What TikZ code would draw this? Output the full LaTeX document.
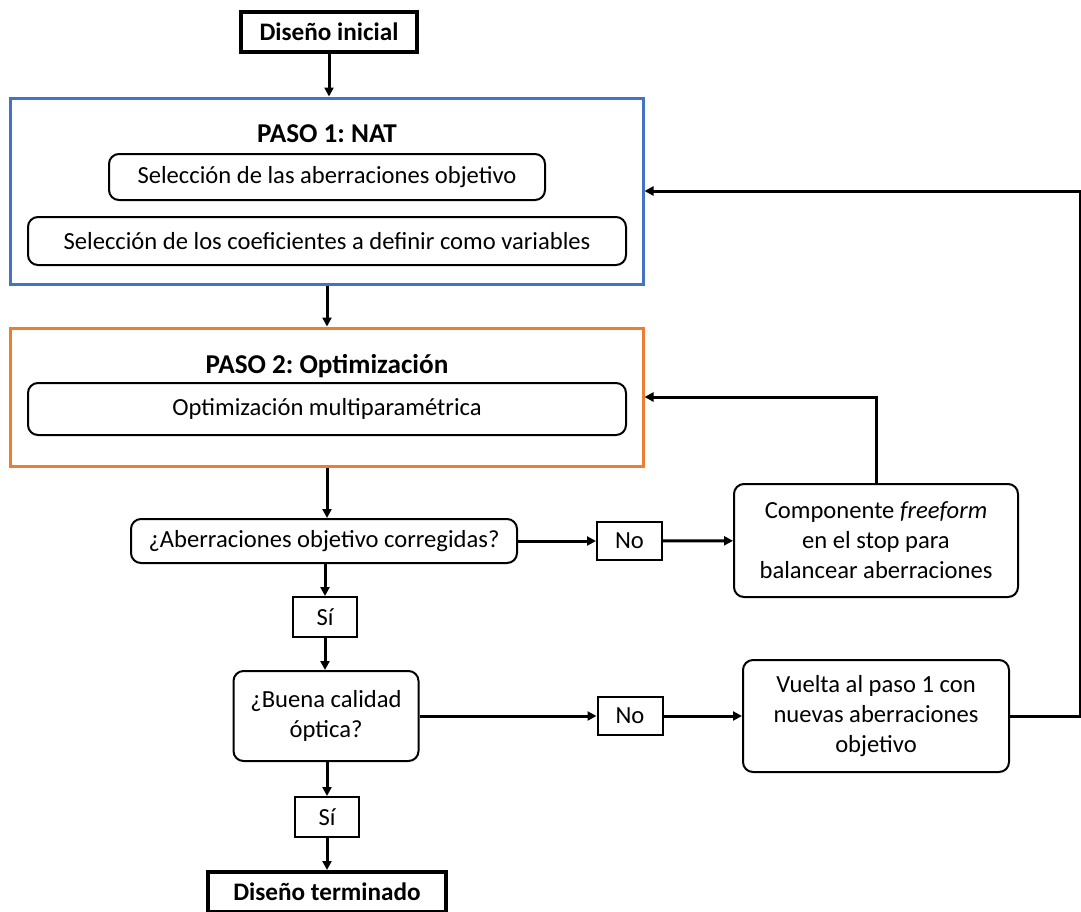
\documentclass[tikz,border=0pt]{standalone}
\usepackage{fontspec}
\setmainfont{Carlito}
\usetikzlibrary{arrows.meta}
\definecolor{pasoazul}{HTML}{4472C4}
\definecolor{pasonaranja}{HTML}{ED7D31}
\frenchspacing

\begin{document}
\begin{tikzpicture}[x=0.5pt,y=-0.5pt,
  font=\fontsize{12.3}{15}\selectfont,
  flecha/.style={-{Triangle[length=4.5pt,width=4.5pt]},line width=1.5pt},
  extremo/.style={draw,line width=2pt,font=\fontsize{12.6}{15}\selectfont\bfseries,inner sep=0pt},
  titulo/.style={font=\fontsize{13.6}{15}\selectfont\bfseries},
  paso/.style={draw,line width=1.5pt,inner sep=0pt},
  tarea/.style={draw,rounded corners=5pt,line width=1pt,inner sep=0pt,align=center},
  resp/.style={draw,line width=1pt,inner sep=0pt}]
 \useasboundingbox (0,0) rectangle (1081,911);
 \node[extremo,minimum width=88pt,minimum height=20pt] (inicio) at (329,32) {Diseño inicial};

 \node[paso,draw=pasoazul,minimum width=316.5pt,minimum height=93pt] (paso1) at (326.5,191) {};
 \node[titulo] (tit1) at (327,134) {PASO 1: NAT};
 \node[tarea,minimum width=218pt,minimum height=23pt] (sel1) at (327,177) {Selección de las aberraciones objetivo};
 \node[tarea,minimum width=299pt,minimum height=24pt] (sel2) at (327,241) {Selección de los coeficientes a definir como variables};

 \node[paso,draw=pasonaranja,minimum width=316.5pt,minimum height=69pt] (paso2) at (326.5,397) {};
 \node[titulo] (tit2) at (327,366) {PASO 2: Optimización};
 \node[tarea,minimum width=299pt,minimum height=26pt] (opt) at (327,409) {Optimización multiparamétrica};

 \node[tarea,minimum width=193pt,minimum height=22pt] (corr) at (324,541) {¿Aberraciones objetivo corregidas?};
 \node[resp,minimum width=32.5pt,minimum height=19pt] (no1) at (629.5,541) {No};
 \node[tarea,minimum width=142pt,minimum height=56.5pt] (free) at (876,540.5) {Componente \textit{freeform}\\en el stop para\\balancear aberraciones};
 \node[resp,minimum width=32pt,minimum height=20pt] (si1) at (325,617) {Sí};

 \node[tarea,minimum width=92.5pt,minimum height=45pt] (calidad) at (326,716) {¿Buena calidad\\óptica?};
 \node[resp,minimum width=32.5pt,minimum height=19pt] (no2) at (630,716) {No};
 \node[tarea,minimum width=133pt,minimum height=56pt] (vuelta) at (876,716) {Vuelta al paso 1 con\\nuevas aberraciones\\objetivo};
 \node[resp,minimum width=32pt,minimum height=20pt] (si2) at (327,817) {Sí};
 \node[extremo,minimum width=119pt,minimum height=20pt] (fin) at (327,892) {Diseño terminado};
 \coordinate (retorno) at (1080.5,191);

 \draw[flecha] (inicio) -- (paso1.north -| inicio);
 \draw[flecha] (paso1.south -| tit1) -- (paso2.north -| tit1);
 \draw[flecha] (paso2.south -| tit1) -- (corr.north -| tit1);
 \draw[flecha] (corr) -- (no1);
 \draw[flecha] (no1) -- (free);
 \draw[flecha] (free.north) |- (paso2.east);
 \draw[flecha] (corr.south -| si1) -- (si1);
 \draw[flecha] (si1) -- (calidad.north -| si1);
 \draw[flecha] (calidad) -- (no2);
 \draw[flecha] (no2) -- (vuelta);
 \draw[flecha] (vuelta.east) -| (retorno) -- (paso1.east);
 \draw[flecha] (calidad.south -| si2) -- (si2);
 \draw[flecha] (si2) -- (fin);
\end{tikzpicture}
\end{document}
